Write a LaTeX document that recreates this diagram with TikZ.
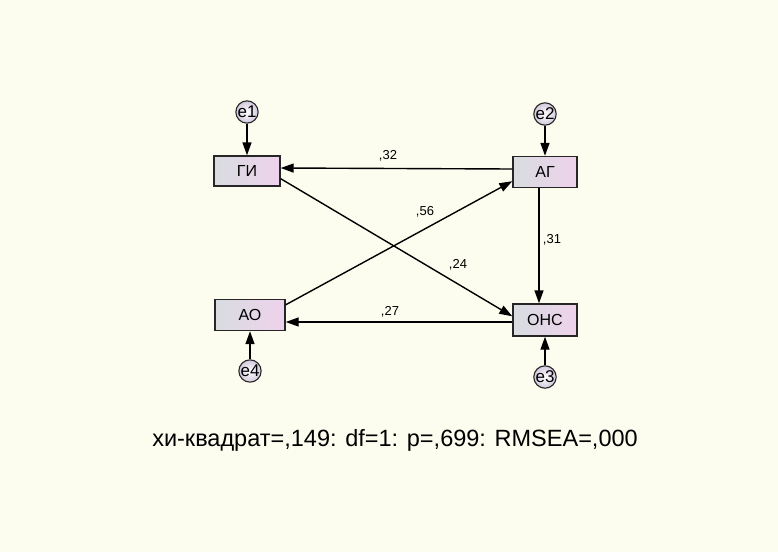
\documentclass[tikz,border=0pt]{standalone}
\usepackage{fontspec}
\setmainfont{Liberation Sans}
\usetikzlibrary{arrows.meta}
\definecolor{bgc}{RGB}{252,253,238}
\definecolor{boxl}{RGB}{216,220,224}
\definecolor{boxr}{RGB}{238,210,236}
\definecolor{errc}{RGB}{210,200,220}
\tikzset{
  var/.style={draw=black!85, line width=1.4pt, left color=boxl, right color=boxr,
    minimum height=30pt, minimum width=66pt, inner sep=0pt, font=\fontsize{16}{16}\selectfont},
  errn/.style={circle, draw=black!85, line width=1.1pt, inner color=white, outer color=errc,
    minimum size=21pt, inner sep=0pt, font=\fontsize{17}{17}\selectfont},
  arr/.style={line width=1.4pt, -{Triangle[length=13pt,width=9pt]}},
  coef/.style={font=\fontsize{13}{13}\selectfont, inner sep=0pt}
}
\begin{document}
\begin{tikzpicture}[x=1pt,y=-1pt]
\fill[bgc] (0,0) rectangle (778,552);
\node[var] (gi) at (247,171) {ГИ};
\node[var, minimum width=64pt, minimum height=31pt] (ag) at (545,172) {АГ};
\node[var, minimum width=70pt, minimum height=31pt] (ao) at (250,315) {АО};
\node[var, minimum width=64pt, minimum height=32pt] (ons) at (545,320) {ОНС};
\node[errn] (e1) at (247,112) {e1};
\node[errn] (e2) at (545,114) {e2};
\node[errn] (e4) at (250,371) {e4};
\node[errn] (e3) at (545,377) {e3};
\draw[arr] (e1) -- (gi);
\draw[arr] (e2) -- (ag);
\draw[arr] (e4) -- (ao);
\draw[arr] (e3) -- (ons);
\draw[arr] ([yshift=3pt]ag.west) -- ([yshift=3pt]gi.east);
\draw[arr] ([xshift=-6pt]ag.south) -- ([xshift=-6pt]ons.north);
\draw[arr] ([yshift=-2pt]ons.west) -- ([yshift=-7pt]ao.east);
\draw[arr] ([yshift=-6pt]ao.north east) -- ([yshift=7pt]ag.south west);
\draw[arr] ([yshift=8pt]gi.south east) -- ([yshift=-13pt]ons.north west);
\node[coef] (c32) at (388,156) {,32};
\node[coef] (c56) at (425,212) {,56};
\node[coef] (c24) at (458,265) {,24};
\node[coef] (c31) at (552,240) {,31};
\node[coef] (c27) at (390,312) {,27};
\node[font=\fontsize{23.5}{23.5}\selectfont, inner sep=0pt] (fit) at (395,440) {хи-квадрат=,149: df=1: p=,699: RMSEA=,000};
\end{tikzpicture}
\end{document}
